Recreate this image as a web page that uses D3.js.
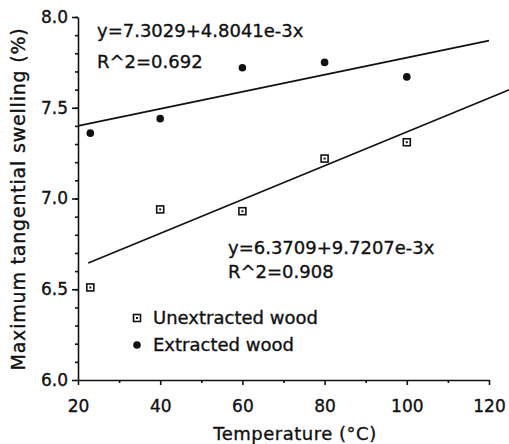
<!DOCTYPE html>
<html>
<head>
<meta charset="utf-8">
<script src="https://cdn.jsdelivr.net/npm/d3@7"></script>
<style>
body { margin: 0; background: #fff; }
text { font-family: "DejaVu Sans", sans-serif; fill: #111; stroke: #111; stroke-width: 0.35px; }
</style>
</head>
<body>
<div id="graphDiv"></div>
<script>
// data
var temps = [23, 40, 60, 80, 100];
var unextracted = [6.51, 6.94, 6.93, 7.22, 7.31];
var extracted = [7.36, 7.44, 7.72, 7.75, 7.67];

// fitted lines, end points as drawn
var extLineX = [20, 120];
var extLineY = [7.40, 7.87];
var unextLineX = [22.5, 125];
var unextLineY = [6.645, 7.60];

var xTicks = [20, 40, 60, 80, 100, 120];
var yTicks = [6.0, 6.5, 7.0, 7.5, 8.0];

// set the dimensions and margins of the graph
var margin = {top: 17, right: 20, bottom: 64, left: 78},
width = 489 - margin.left,
height = 380 - margin.top;

var svg = d3.select("#graphDiv")
.append("svg")
.attr("width", 509)
.attr("height", 444)
.append("g")
.attr("transform", "translate(" + margin.left + "," + margin.top + ")");

var x = d3.scaleLinear().domain([20, 120]).range([0, width]);
var y = d3.scaleLinear().domain([6, 8]).range([height, 0]);

// X axis, minor ticks first
svg.append("g")
.attr("transform", "translate(0," + height + ")")
.call(d3.axisBottom(x).tickValues(d3.range(30, 120, 20)).tickSize(3).tickFormat(""))
.call(g => g.select(".domain").remove());

svg.append("g")
.attr("transform", "translate(0," + height + ")")
.call(d3.axisBottom(x).tickValues(xTicks).tickSize(5).tickSizeOuter(0).tickFormat(d3.format("d")))
.call(g => g.selectAll("text").attr("y", 32).attr("dy", null).style("font-size", "17px"));

// Y axis
svg.append("g")
.call(d3.axisLeft(y).tickValues(d3.range(6.1, 8, 0.1)).tickSize(3).tickFormat(""))
.call(g => g.select(".domain").remove());

svg.append("g")
.call(d3.axisLeft(y).tickValues(yTicks).tickSize(6).tickSizeOuter(0).tickFormat(d3.format(".1f")))
.call(g => g.selectAll("text").attr("x", -10).style("font-size", "17px"));

svg.selectAll(".domain, .tick line").attr("stroke", "#111").attr("stroke-width", 1.6);

// axis titles
svg.append("text")
.attr("x", 295 - margin.left)
.attr("y", 440 - margin.top)
.attr("text-anchor", "middle")
.style("font-size", "18px")
.style("letter-spacing", "0.5px")
.text("Temperature (°C)");

svg.append("text")
.attr("transform", "rotate(-90)")
.attr("x", -(199 - margin.top))
.attr("y", 25 - margin.left)
.attr("text-anchor", "middle")
.style("font-size", "19px")
.style("letter-spacing", "0.8px")
.text("Maximum tangential swelling (%)");

// regression lines
var line = d3.line().x(d => x(d[0])).y(d => y(d[1]));
svg.append("path")
.datum(d3.zip(extLineX, extLineY))
.attr("d", line)
.attr("fill", "none").attr("stroke", "#111").attr("stroke-width", 1.7);
svg.append("path")
.datum(d3.zip(unextLineX, unextLineY))
.attr("d", line)
.attr("fill", "none").attr("stroke", "#111").attr("stroke-width", 1.7);

// points
function square(g, cx, cy) {
  g.append("rect").attr("x", cx - 3.5).attr("y", cy - 3.5).attr("width", 7).attr("height", 7)
  .attr("fill", "#fff").attr("stroke", "#111").attr("stroke-width", 1.6);
  g.append("rect").attr("x", cx - 1).attr("y", cy - 1).attr("width", 2).attr("height", 2).attr("fill", "#111");
}

temps.forEach(function(t, i) {
  square(svg, x(t), y(unextracted[i]));
});

svg.selectAll(".ext")
.data(temps)
.enter()
.append("circle")
.attr("class", "ext")
.attr("cx", d => x(d))
.attr("cy", (d, i) => y(extracted[i]))
.attr("r", 3.8)
.attr("fill", "#111");

// equations
var eq = svg.append("g").style("font-size", "18px");
eq.append("text").attr("x", 97 - margin.left).attr("y", 37 - margin.top).text("y=7.3029+4.8041e-3x");
eq.append("text").attr("x", 97 - margin.left).attr("y", 68 - margin.top).text("R^2=0.692");
eq.append("text").attr("x", 228 - margin.left).attr("y", 254 - margin.top).text("y=6.3709+9.7207e-3x");
eq.append("text").attr("x", 228 - margin.left).attr("y", 278 - margin.top).text("R^2=0.908");

// legend
var leg = svg.append("g").style("font-size", "18px");
square(leg, 137 - margin.left, 318 - margin.top);
leg.append("circle").attr("cx", 137 - margin.left).attr("cy", 345 - margin.top).attr("r", 3.8).attr("fill", "#111");
leg.append("text").attr("x", 153 - margin.left).attr("y", 324 - margin.top).text("Unextracted wood");
leg.append("text").attr("x", 153 - margin.left).attr("y", 351 - margin.top).text("Extracted wood");
</script>
</body>
</html>
